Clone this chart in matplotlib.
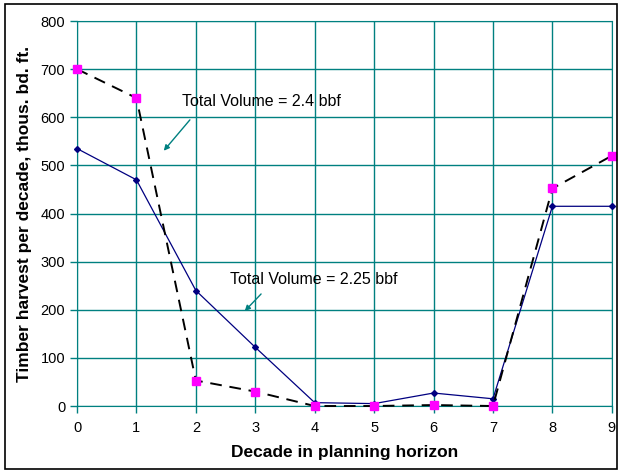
import numpy as np
import matplotlib.pyplot as plt
from matplotlib.patches import Rectangle

plt.rcParams['font.family'] = ['Liberation Sans', 'DejaVu Sans']

decade = [0, 1, 2, 3, 4, 5, 6, 7, 8, 9]
harvest_a = [535, 470, 240, 122, 7, 5, 27, 15, 415, 415]
harvest_b = [700, 640, 53, 30, 0, 0, 2, 0, 452, 520]

teal = '#008080'

fig = plt.figure(figsize=(6.18, 4.72), dpi=100)
ax = fig.add_axes([0.1246, 0.1398, 0.8654, 0.8157])

ax.plot(decade, harvest_a, color='#000080', lw=0.9, marker='D', ms=3,
        mfc='#000080', mec='#000080', zorder=3, clip_on=False)
ax.plot(decade, harvest_b, color='black', lw=1.4, dashes=(6, 4),
        marker='s', ms=5.5, mfc='#ff00ff', mec='#ff00ff', zorder=4, clip_on=False)

ax.set_xlim(0, 9)
ax.set_ylim(0, 800)
ax.set_xticks(range(0, 10))
ax.set_yticks(range(0, 801, 100))
ax.grid(True, color=teal, lw=1)
ax.set_axisbelow(True)
for s in ax.spines.values():
    s.set_color(teal)
ax.tick_params(colors=teal, labelcolor='black', labelsize=10.5, length=5, width=1)
ax.tick_params(axis='x', pad=6)

ax.set_xlabel('Decade in planning horizon', fontsize=12.5, fontweight='bold', labelpad=7)
ax.set_ylabel('Timber harvest per decade, thous. bd. ft.', fontsize=12.5,
              fontweight='bold', labelpad=6)

ax.annotate('', xy=(1.43, 526), xytext=(1.93, 599),
            arrowprops=dict(arrowstyle='-|>', color=teal, lw=1, mutation_scale=8))
ax.text(1.77, 632, 'Total Volume = 2.4 bbf', fontsize=11.5, va='center', ha='left')
ax.annotate('', xy=(2.79, 193), xytext=(3.13, 237),
            arrowprops=dict(arrowstyle='-|>', color=teal, lw=1, mutation_scale=8))
ax.text(2.57, 262, 'Total Volume = 2.25 bbf', fontsize=11.5, va='center', ha='left')

fig.patches.append(Rectangle((5 / 618, 1 - 469 / 472), 612 / 618, 465 / 472,
                             transform=fig.transFigure, fill=False,
                             edgecolor='black', lw=1.2))

fig.savefig('out.png', dpi=100)
